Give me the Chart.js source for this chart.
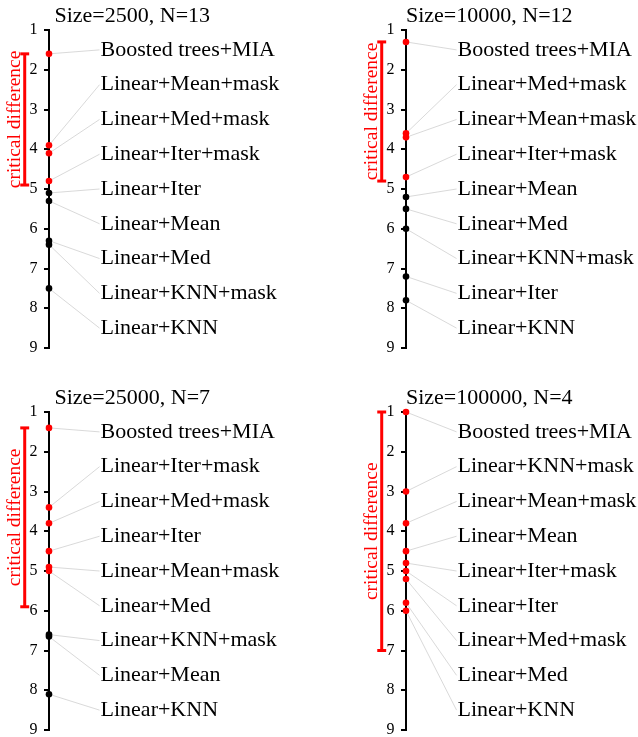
<!DOCTYPE html>
<html>
<head>
<meta charset="utf-8">
<script src="https://cdn.jsdelivr.net/npm/chart.js@4.4.0/dist/chart.umd.min.js"></script>
<style>
  html, body { margin: 0; padding: 0; background: #fff; overflow: hidden; }
  #wrap { position: relative; width: 638px; height: 737px; overflow: hidden; }
  canvas { position: absolute; }
</style>
</head>
<body>
<div id="wrap">
  <canvas id="p2500" width="281" height="368" style="left:0px;top:0px"></canvas>
  <canvas id="p10000" width="281" height="368" style="left:357px;top:0px"></canvas>
  <canvas id="p25000" width="281" height="368" style="left:0px;top:382px"></canvas>
  <canvas id="p100000" width="281" height="368" style="left:357px;top:382px"></canvas>
</div>
<script>
// average ranks (lower is better), one block per training size
const rankTicks = [1, 2, 3, 4, 5, 6, 7, 8, 9];
const labelSlots = [1.5, 2.375, 3.25, 4.125, 5, 5.875, 6.75, 7.625, 8.5];

const title2500 = "Size=2500, N=13";
const methods2500 = ["Boosted trees+MIA", "Linear+Mean+mask", "Linear+Med+mask", "Linear+Iter+mask",
  "Linear+Iter", "Linear+Mean", "Linear+Med", "Linear+KNN+mask", "Linear+KNN"];
const ranks2500 = [1.6, 3.9, 4.1, 4.8, 5.1, 5.3, 6.3, 6.4, 7.5];
const cd2500 = 3.3;

const title10000 = "Size=10000, N=12";
const methods10000 = ["Boosted trees+MIA", "Linear+Med+mask", "Linear+Mean+mask", "Linear+Iter+mask",
  "Linear+Mean", "Linear+Med", "Linear+KNN+mask", "Linear+Iter", "Linear+KNN"];
const ranks10000 = [1.3, 3.6, 3.7, 4.7, 5.2, 5.5, 6.0, 7.2, 7.8];
const cd10000 = 3.5;

const title25000 = "Size=25000, N=7";
const methods25000 = ["Boosted trees+MIA", "Linear+Iter+mask", "Linear+Med+mask", "Linear+Iter",
  "Linear+Mean+mask", "Linear+Med", "Linear+KNN+mask", "Linear+Mean", "Linear+KNN"];
const ranks25000 = [1.4, 3.4, 3.8, 4.5, 4.9, 5.0, 6.6, 6.65, 8.1];
const cd25000 = 4.5;

const title100000 = "Size=100000, N=4";
const methods100000 = ["Boosted trees+MIA", "Linear+KNN+mask", "Linear+Mean+mask", "Linear+Mean",
  "Linear+Iter+mask", "Linear+Iter", "Linear+Med+mask", "Linear+Med", "Linear+KNN"];
const ranks100000 = [1.0, 3.0, 3.8, 4.5, 4.8, 5.0, 5.2, 5.8, 6.0];
const cd100000 = 6.0;

const RED = "#ff0000";
const SERIF = '"Liberation Serif", "Times New Roman", serif';
// horizontal layout in x-scale units (1 unit = 1 px, rank axis sits at x = 0)
const LINK_END = 51, LABEL_X = 52, TITLE_X = 84, CD_X = -24.5, CAP = 4.5, CD_TEXT_X = -29.5;

function redLine(points) {
  return { data: points, showLine: true, borderColor: RED, borderWidth: 3, pointRadius: 0, clip: false };
}

function makePanel(id, title, methods, ranks, cd) {
  const best = Math.min(...ranks);
  const worstOk = best + cd;
  const dotColors = ranks.map(r => r <= worstOk + 1e-9 ? RED : "#000");

  const links = ranks.map((r, i) => ({
    data: [{ x: 0, y: r }, { x: LINK_END, y: labelSlots[i] }],
    showLine: true,
    borderColor: "#cfcfcf",
    borderWidth: 0.8,
    pointRadius: 0,
    clip: false
  }));

  const textPlugin = {
    id: "cdText_" + id,
    afterDatasetsDraw(chart) {
      const { ctx, scales: { x, y } } = chart;
      ctx.save();
      ctx.fillStyle = "#000";
      ctx.font = "22px " + SERIF;
      ctx.textAlign = "left";
      ctx.textBaseline = "middle";
      methods.forEach((m, i) => {
        ctx.fillText(m, x.getPixelForValue(LABEL_X), y.getPixelForValue(labelSlots[i]));
      });

      ctx.textAlign = "center";
      ctx.textBaseline = "alphabetic";
      ctx.fillText(title, x.getPixelForValue(TITLE_X), y.getPixelForValue(1) - 8);

      ctx.translate(x.getPixelForValue(CD_TEXT_X), y.getPixelForValue(best + cd / 2));
      ctx.rotate(-Math.PI / 2);
      ctx.fillStyle = RED;
      ctx.font = "19.5px " + SERIF;
      ctx.fillText("critical difference", 0, 0);
      ctx.restore();
    }
  };

  return new Chart(document.getElementById(id), {
    type: "scatter",
    data: {
      datasets: [
        {
          data: ranks.map(r => ({ x: 0, y: r })),
          pointRadius: 3.3,
          pointBackgroundColor: dotColors,
          pointBorderWidth: 0,
          clip: false
        },
        redLine([{ x: CD_X, y: best }, { x: CD_X, y: worstOk }]),
        redLine([{ x: CD_X - CAP, y: best }, { x: CD_X + CAP, y: best }]),
        redLine([{ x: CD_X - CAP, y: worstOk }, { x: CD_X + CAP, y: worstOk }]),
        ...links
      ]
    },
    options: {
      responsive: false,
      animation: false,
      events: [],
      layout: { padding: { top: 30, bottom: 20, left: 0, right: 2 } },
      plugins: { legend: { display: false }, tooltip: { enabled: false } },
      scales: {
        x: { type: "linear", min: 0, max: 230, display: false },
        y: {
          type: "linear",
          min: 1,
          max: 9,
          reverse: true,
          afterFit: s => { s.width = 49; },
          afterBuildTicks: s => { s.ticks = rankTicks.map(v => ({ value: v })); },
          ticks: { color: "#000", font: { family: SERIF, size: 16 }, padding: 6.5 },
          grid: { drawOnChartArea: false, color: "#000", lineWidth: 2, tickLength: 5 },
          border: { color: "#000", width: 2 }
        }
      }
    },
    plugins: [textPlugin]
  });
}

makePanel("p2500", title2500, methods2500, ranks2500, cd2500);
makePanel("p10000", title10000, methods10000, ranks10000, cd10000);
makePanel("p25000", title25000, methods25000, ranks25000, cd25000);
makePanel("p100000", title100000, methods100000, ranks100000, cd100000);
</script>
</body>
</html>
